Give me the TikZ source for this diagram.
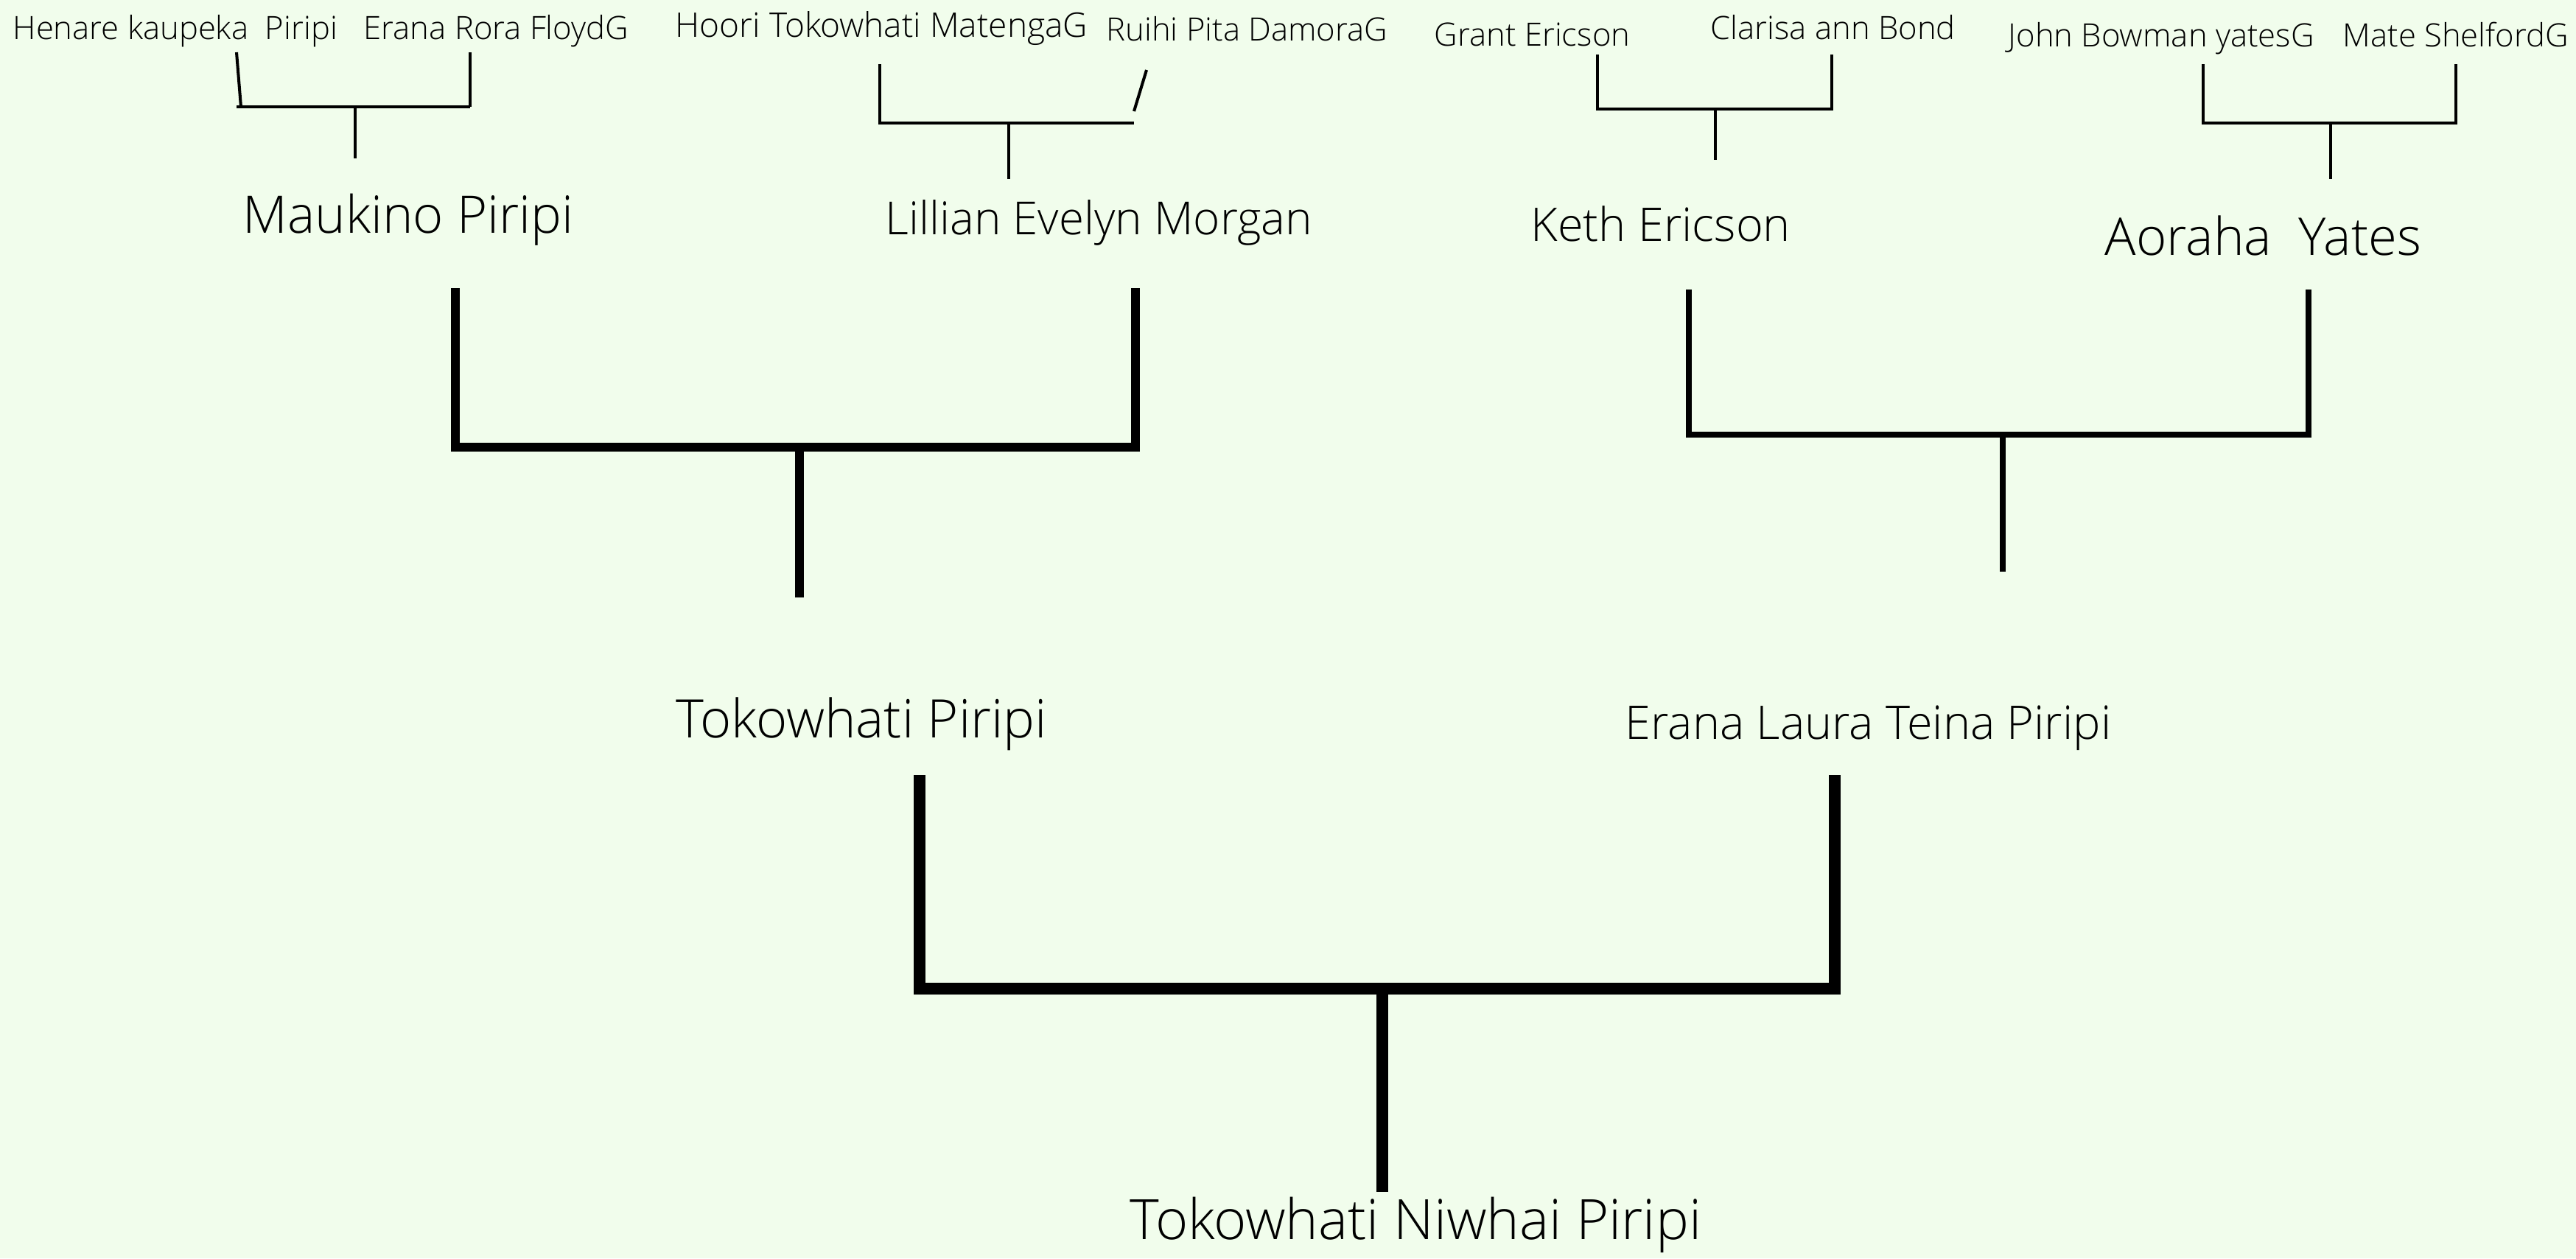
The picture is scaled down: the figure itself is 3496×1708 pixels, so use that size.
\documentclass[tikz,border=0pt]{standalone}
\usepackage{fontspec}
\setmainfont{Open Sans}[UprightFont=* Light]
\definecolor{bg}{RGB}{241,253,236}
\newcommand{\fs}[1]{\fontsize{#1}{#1}\selectfont}
\tikzset{
  nm/.style={inner sep=0pt, anchor=base west, text=black},
  small/.style={nm, font=\fs{12.4}},
  mid/.style={nm, font=\fs{20.3}},
  midb/.style={nm, font=\fs{17.9}},
  big/.style={nm, font=\fs{21.5}},
  thin/.style={line width=1.15pt, black},
  medA/.style={line width=3.4pt, black},
  medB/.style={line width=2.3pt, black},
  thick/.style={line width=4.3pt, black},
}
\begin{document}
\begin{tikzpicture}[x=0.01cm, y=-0.01cm]
\fill[bg] (0,0) rectangle (3496,1708);
\useasboundingbox (0,0) rectangle (3496,1708);

% top generation
\node[small] (henare) at (17,53) {Henare kaupeka\ \ Piripi};
\node[small] (eranaR) at (493,53) {Erana Rora FloydG};
\node[small, font=\fs{13.1}] (hoori) at (916,50) {Hoori Tokowhati MatengaG};
\node[small] (ruihi) at (1501,55) {Ruihi Pita DamoraG};
\node[small] (grant) at (1946,62) {Grant Ericson};
\node[small] (clarisa) at (2321,53) {Clarisa ann Bond};
\node[small] (john) at (2725,63) {John Bowman yatesG};
\node[small] (mate) at (3179,63) {Mate ShelfordG};

% second generation
\node[mid, font=\fs{20.0}] (maukino) at (329,316) {Maukino Piripi};
\node[midb, font=\fs{17.6}] (lillian) at (1201,318) {Lillian Evelyn Morgan};
\node[midb] (keth) at (2077,327) {Keth Ericson};
\node[mid, font=\fs{20.1}] (aoraha) at (2856,346) {Aoraha\ \ Yates};

% third generation
\node[mid, font=\fs{20.5}] (tokoP) at (917,1001) {Tokowhati Piripi};
\node[midb] (eranaL) at (2205,1003) {Erana Laura Teina Piripi};

% root
\node[big] (root) at (1533,1682) {Tokowhati Niwhai Piripi};

% bracket coordinates
\coordinate (b1l) at (321,71);  \coordinate (b1lb) at (327,145);
\coordinate (b1r) at (638,71);  \coordinate (b1rb) at (638,145);
\coordinate (b1s) at (482,145); \coordinate (b1e) at (482,215);
\draw[thin] (b1l) -- (b1lb);
\draw[thin] (b1r) -- (b1rb);
\draw[thin] (321,145) -- (b1rb);
\draw[thin] (b1s) -- (b1e);

\coordinate (b2l) at (1194,87); \coordinate (b2lb) at (1194,167);
\coordinate (b2rb) at (1539,167);
\coordinate (b2r) at (1556,95); \coordinate (b2re) at (1539,151);
\coordinate (b2s) at (1369,167); \coordinate (b2e) at (1369,243);
\draw[thin] (b2l) -- (b2lb) -- (b2rb);
\draw[thin] (b2r) -- (b2re);
\draw[thin] (b2s) -- (b2e);

\coordinate (b3l) at (2168,74); \coordinate (b3lb) at (2168,148);
\coordinate (b3r) at (2486,74); \coordinate (b3rb) at (2486,148);
\coordinate (b3s) at (2328,148); \coordinate (b3e) at (2328,217);
\draw[thin] (b3l) -- (b3lb) -- (b3rb) -- (b3r);
\draw[thin] (b3s) -- (b3e);

\coordinate (b4l) at (2990,87); \coordinate (b4lb) at (2990,167);
\coordinate (b4r) at (3333,87); \coordinate (b4rb) at (3333,167);
\coordinate (b4s) at (3163,167); \coordinate (b4e) at (3163,243);
\draw[thin] (b4l) -- (b4lb) -- (b4rb) -- (b4r);
\draw[thin] (b4s) -- (b4e);

% second level brackets
\coordinate (bAl) at (618,391); \coordinate (bAlb) at (618,607);
\coordinate (bAr) at (1541,391); \coordinate (bArb) at (1541,607);
\coordinate (bAs) at (1085,607); \coordinate (bAe) at (1085,811);
\draw[medA] (bAl) -- (bAlb) -- (bArb) -- (bAr);
\draw[medA] (bAs) -- (bAe);

\coordinate (bBl) at (2292,393); \coordinate (bBlb) at (2292,590);
\coordinate (bBr) at (3133,393); \coordinate (bBrb) at (3133,590);
\coordinate (bBs) at (2718,590); \coordinate (bBe) at (2718,776);
\draw[medB] (bBl) -- (bBlb) -- (bBrb) -- (bBr);
\draw[medB] (bBs) -- (bBe);

% bottom bracket
\coordinate (bCl) at (1248,1052); \coordinate (bClb) at (1248,1342);
\coordinate (bCr) at (2490,1052); \coordinate (bCrb) at (2490,1342);
\coordinate (bCs) at (1876,1342); \coordinate (bCe) at (1876,1618);
\draw[thick] (bCl) -- (bClb) -- (bCrb) -- (bCr);
\draw[thick] (bCs) -- (bCe);
\end{tikzpicture}
\end{document}
